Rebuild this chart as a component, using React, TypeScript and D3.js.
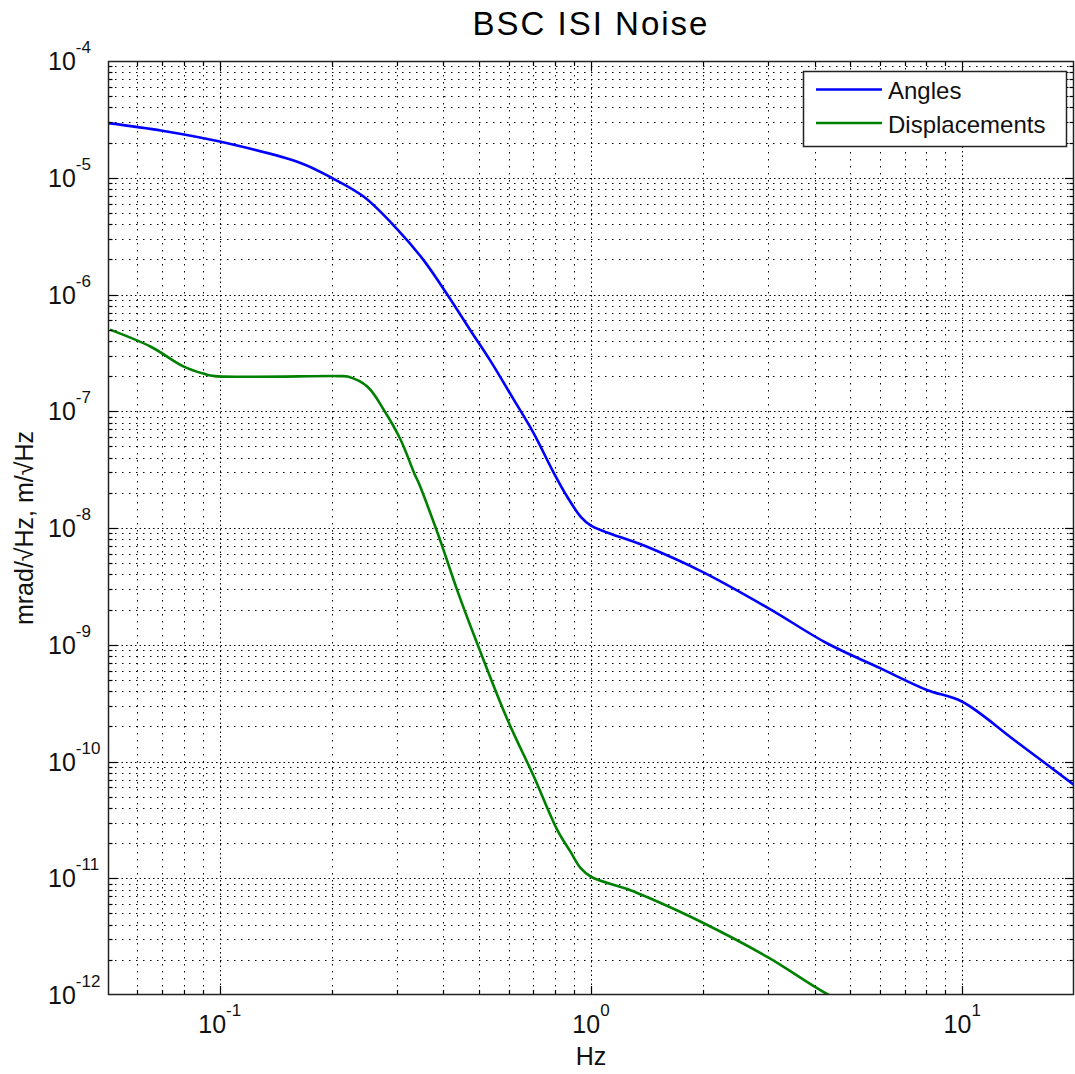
import React from "react";
import * as d3 from "d3";

const TITLE = "BSC ISI Noise";
const X_LABEL = "Hz";
const Y_LABEL = "mrad/\u221AHz, m/\u221AHz";
const SERIES_NAMES = ["Angles", "Displacements"];
const SERIES_COLORS = ["#0000ff", "#008000"];

const X_DOMAIN = [0.05, 20];
const Y_DOMAIN = [1e-12, 1e-4];
const X_MAJOR_EXPS = [-1, 0, 1];
const Y_MAJOR_EXPS = [-4, -5, -6, -7, -8, -9, -10, -11, -12];

const anglesFreq = [0.05, 0.07, 0.1, 0.165, 0.2, 0.244, 0.3, 0.354, 0.41, 0.474, 0.536, 0.62, 0.701, 0.795, 0.863, 0.938, 1.0, 1.416, 1.99, 3.01, 4.32, 6.01, 8.03, 10, 13.8, 20];
const anglesVal = [2.94e-5, 2.53e-5, 2.04e-5, 1.34e-5, 1.0e-5, 6.9e-6, 3.65e-6, 1.97e-6, 1.0e-6, 4.9e-7, 2.7e-7, 1.25e-7, 6.47e-8, 2.94e-8, 1.85e-8, 1.25e-8, 1.05e-8, 6.9e-9, 4.23e-9, 2.05e-9, 1.03e-9, 6.3e-10, 4.1e-10, 3.25e-10, 1.53e-10, 6.3e-11];

const dispFreq = [0.0506, 0.0652, 0.08, 0.0908, 0.097, 0.21, 0.221, 0.25, 0.277, 0.307, 0.334, 0.344, 0.381, 0.398, 0.436, 0.494, 0.595, 0.702, 0.811, 0.881, 0.938, 1.0, 1.277, 1.416, 1.97, 3.0, 4.37, 6.0];
const dispVal = [5.0e-7, 3.57e-7, 2.41e-7, 2.09e-7, 2.0e-7, 2.0e-7, 1.98e-7, 1.62e-7, 1.02e-7, 5.7e-8, 2.95e-8, 2.4e-8, 1.02e-8, 6.9e-9, 2.94e-9, 1.02e-9, 2.3e-10, 7.4e-11, 2.6e-11, 1.68e-11, 1.22e-11, 1.03e-11, 7.9e-12, 6.9e-12, 4.26e-12, 2.1e-12, 1.0e-12, 6.3e-13];

const W = 1075;
const H = 1074;
const M = { left: 108, right: 1074, top: 61, bottom: 995 };
const FONT = "'Liberation Sans', Arial, Helvetica, sans-serif";

function logTicks(lo: number, hi: number) {
  const major: number[] = [];
  const minor: number[] = [];
  const e0 = Math.floor(Math.log10(lo)) - 1;
  const e1 = Math.ceil(Math.log10(hi)) + 1;
  for (let e = e0; e <= e1; e++) {
    for (let k = 1; k <= 9; k++) {
      const v = k * Math.pow(10, e);
      if (v < lo * 0.9999 || v > hi * 1.0001) continue;
      if (k === 1) major.push(v);
      else minor.push(v);
    }
  }
  return { major, minor };
}

export default function App() {
  const x = d3.scaleLog().domain(X_DOMAIN).range([M.left, M.right]);
  const y = d3.scaleLog().domain(Y_DOMAIN).range([M.bottom, M.top]);
  const xt = logTicks(X_DOMAIN[0], X_DOMAIN[1]);
  const yt = logTicks(Y_DOMAIN[0], Y_DOMAIN[1]);

  const line = d3
    .line<[number, number]>()
    .x((d) => x(d[0]))
    .y((d) => y(d[1]))
    .curve(d3.curveCatmullRom.alpha(0.5));

  const series = [
    anglesFreq.map((f, i) => [f, anglesVal[i]] as [number, number]),
    dispFreq.map((f, i) => [f, dispVal[i]] as [number, number]),
  ];

  const inside = (px: number, a: number, b: number) => px > a + 0.5 && px < b - 0.5;

  const majorDash = "1.5 3";
  const minorDash = "1.5 5.5";

  return (
    <svg
      width={W}
      height={H}
      style={{ position: "absolute", left: 0, top: 0, background: "#fff" }}
      fontFamily={FONT}
    >
      <rect x={0} y={0} width={W} height={H} fill="#fff" />
      <defs>
        <clipPath id="plotclip">
          <rect x={M.left} y={M.top} width={M.right - M.left} height={M.bottom - M.top} />
        </clipPath>
      </defs>

      {/* grid */}
      <g stroke="#000" strokeWidth={1}>
        {xt.minor.map((v) => {
          const px = Math.round(x(v)) + 0.5;
          return inside(px, M.left, M.right) ? (
            <line key={"xgm" + v} x1={px} x2={px} y1={M.top} y2={M.bottom} strokeDasharray={minorDash} />
          ) : null;
        })}
        {xt.major.map((v) => {
          const px = Math.round(x(v)) + 0.5;
          return inside(px, M.left, M.right) ? (
            <line key={"xgM" + v} x1={px} x2={px} y1={M.top} y2={M.bottom} strokeDasharray={majorDash} />
          ) : null;
        })}
        {yt.minor.map((v) => {
          const py = Math.round(y(v)) + 0.5;
          return inside(py, M.top, M.bottom) ? (
            <line key={"ygm" + v} x1={M.left} x2={M.right} y1={py} y2={py} strokeDasharray={minorDash} />
          ) : null;
        })}
        {yt.major.map((v) => {
          const py = Math.round(y(v)) + 0.5;
          return inside(py, M.top, M.bottom) ? (
            <line key={"ygM" + v} x1={M.left} x2={M.right} y1={py} y2={py} strokeDasharray={majorDash} />
          ) : null;
        })}
      </g>

      {/* curves */}
      <g clipPath="url(#plotclip)">
        {series.map((s, i) => (
          <path key={i} d={line(s) || ""} fill="none" stroke={SERIES_COLORS[i]} strokeWidth={2.6} strokeLinejoin="round" />
        ))}
      </g>

      {/* ticks */}
      <g stroke="#000" strokeWidth={1.2}>
        {xt.minor.concat(xt.major).map((v) => {
          const px = Math.round(x(v)) + 0.5;
          if (!inside(px, M.left, M.right)) return null;
          const len = xt.major.includes(v) ? 9 : 5;
          return (
            <g key={"xt" + v}>
              <line x1={px} x2={px} y1={M.bottom} y2={M.bottom - len} />
              <line x1={px} x2={px} y1={M.top} y2={M.top + len} />
            </g>
          );
        })}
        {yt.minor.concat(yt.major).map((v) => {
          const py = Math.round(y(v)) + 0.5;
          if (!inside(py, M.top, M.bottom)) return null;
          const len = yt.major.includes(v) ? 9 : 4.5;
          return (
            <g key={"yt" + v}>
              <line x1={M.left} x2={M.left + len} y1={py} y2={py} />
              <line x1={M.right} x2={M.right - len} y1={py} y2={py} />
            </g>
          );
        })}
      </g>

      {/* box */}
      <rect
        x={M.left + 0.5}
        y={M.top + 0.5}
        width={M.right - M.left - 1}
        height={M.bottom - M.top - 1}
        fill="none"
        stroke="#222"
        strokeWidth={1.5}
      />

      {/* x tick labels */}
      <g fill="#111" fontSize={25}>
        {X_MAJOR_EXPS.map((e) => (
          <text key={"xl" + e} x={x(Math.pow(10, e))} y={1033} textAnchor="middle">
            <tspan>10</tspan>
            <tspan dy={-17} fontSize={17}>{String(e)}</tspan>
          </text>
        ))}
      </g>

      {/* y tick labels */}
      <g fill="#111" fontSize={25}>
        {Y_MAJOR_EXPS.map((e) => (
          <text key={"yl" + e} x={48} y={y(Math.pow(10, e)) + 9}>
            <tspan>10</tspan>
            <tspan dy={-17} fontSize={17}>{String(e)}</tspan>
          </text>
        ))}
      </g>

      {/* axis labels */}
      <text x={(M.left + M.right) / 2} y={1065} textAnchor="middle" fontSize={25} fill="#111">
        {X_LABEL}
      </text>
      <text
        transform={`translate(33, ${(M.top + M.bottom) / 2}) rotate(-90)`}
        textAnchor="middle"
        fontSize={25}
        fill="#111"
      >
        {Y_LABEL}
      </text>

      {/* title */}
      <text x={(M.left + M.right) / 2} y={35} textAnchor="middle" fontSize={33} letterSpacing={2} fill="#000">
        {TITLE}
      </text>

      {/* legend */}
      <g>
        <rect x={803.5} y={71.5} width={263} height={75} fill="#fff" stroke="#222" strokeWidth={1.5} />
        {SERIES_NAMES.map((name, i) => {
          const ly = 89.5 + i * 33.5;
          return (
            <g key={name}>
              <line x1={816} x2={882} y1={ly} y2={ly} stroke={SERIES_COLORS[i]} strokeWidth={2.6} />
              <text x={888} y={ly + 9.5} fontSize={24} fill="#111">
                {name}
              </text>
            </g>
          );
        })}
      </g>
    </svg>
  );
}
